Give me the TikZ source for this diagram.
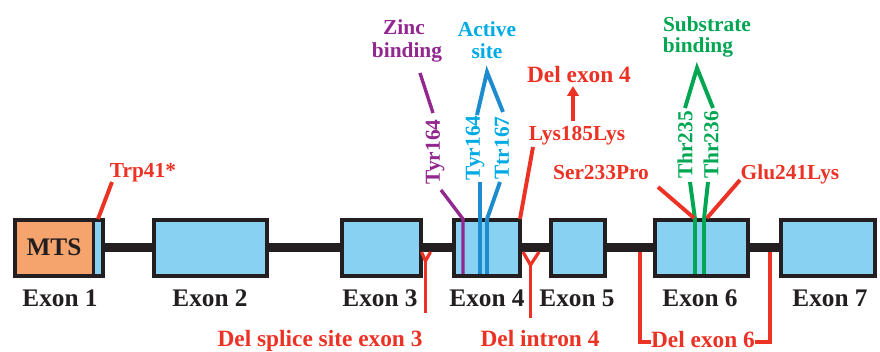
\documentclass[tikz,border=0pt]{standalone}
\usepackage{fontspec}
\setmainfont{Liberation Serif}
\usetikzlibrary{arrows.meta}

\definecolor{ink}{RGB}{35,31,32}
\definecolor{exonfill}{RGB}{137,209,243}
\definecolor{mtsfill}{RGB}{245,164,110}
\definecolor{mutred}{RGB}{236,50,36}
\definecolor{zincpurple}{RGB}{146,39,143}
\definecolor{siteblue}{RGB}{28,140,206}
\definecolor{sitetext}{RGB}{0,170,228}
\definecolor{subgreen}{RGB}{0,166,81}

\tikzset{
  exonbox/.style={draw=ink, line width=2.8pt, fill=exonfill},
  exonlab/.style={font=\fontsize{18}{18}\selectfont\bfseries, text=ink, anchor=base, inner sep=0pt},
  mutlab/.style={font=\fontsize{15.2}{15.2}\selectfont\bfseries, text=mutred, anchor=base, inner sep=0pt},
  dellab/.style={font=\fontsize{16.6}{16.6}\selectfont\bfseries, text=mutred, anchor=base, inner sep=0pt},
  sitelab/.style={font=\fontsize{15.2}{15.2}\selectfont\bfseries, anchor=base, inner sep=0pt},
  reslab/.style={font=\fontsize{15.2}{15.2}\selectfont\bfseries, rotate=90, inner sep=0pt},
  mutline/.style={draw=mutred, line width=2.8pt},
  yline/.style={draw=mutred, line width=2.3pt},
}

\begin{document}
\begin{tikzpicture}[x=0.025cm, y=-0.025cm]
\useasboundingbox (0,0) rectangle (880,352);

% intron backbone
\draw[ink, line width=6.4pt] (103,247.5) -- (781,247.5);

% exon 1 with the MTS segment
\fill[mtsfill] (15,220) rectangle (93.5,276);
\fill[exonfill] (93.5,220) rectangle (103,276);
\draw[ink, line width=2pt] (93.5,220) -- (93.5,276);
\draw[ink, line width=2.8pt] (15,220) rectangle (103,276);
\node[exonlab] (mts) at (54,256) {MTS};

% exons 2-7
\draw[exonbox] (154,220) rectangle (267,276);
\draw[exonbox] (342,220) rectangle (421,276);
\draw[exonbox] (454,220) rectangle (520,276);
\draw[exonbox] (551,220) rectangle (605,276);
\draw[exonbox] (655,220) rectangle (748,276);
\draw[exonbox] (781,220) rectangle (875,276);

% exon labels
\node[exonlab] (lab1) at (60,307) {Exon 1};
\node[exonlab] (lab2) at (210,307) {Exon 2};
\node[exonlab] (lab3) at (380,307) {Exon 3};
\node[exonlab] (lab4) at (487,307) {Exon 4};
\node[exonlab] (lab5) at (577,307) {Exon 5};
\node[exonlab] (lab6) at (700,307) {Exon 6};
\node[exonlab] (lab7) at (830,307) {Exon 7};

% zinc binding residue
\node[sitelab, text=zincpurple] (zincA) at (404,35) {Zinc};
\node[sitelab, text=zincpurple] (zincB) at (407,58) {binding};
\node[reslab, text=zincpurple] (tyrz) at (435,152) {Tyr164};
\coordinate (zt1) at (420,73);
\coordinate (zt2) at (433,113);
\coordinate (zb1) at (441,190);
\coordinate (zb2) at (463,219);
\coordinate (zb3) at (463,274);
\draw[zincpurple, line width=2.4pt] (zt1) -- (zt2);
\draw[zincpurple, line width=2.4pt] (zb1) -- (zb2) -- (zb3);

% active site residues
\node[sitelab, text=sitetext] (actA) at (487,37) {Active};
\node[sitelab, text=sitetext] (actB) at (487,59) {site};
\node[reslab, text=sitetext] (tyra) at (475,148) {Tyr164};
\node[reslab, text=sitetext] (ttra) at (502,148) {Ttr167};
\coordinate (ac1) at (477,115);
\coordinate (ac2) at (487,72);
\coordinate (ac3) at (503,112);
\coordinate (al1) at (480,182);
\coordinate (al2) at (480,274);
\coordinate (ar1) at (500,182);
\coordinate (ar2) at (487,219);
\coordinate (ar3) at (487,274);
\draw[siteblue, line width=2.8pt, line join=miter] (ac1) -- (ac2) -- (ac3);
\draw[siteblue, line width=2.8pt] (al1) -- (al2);
\draw[siteblue, line width=2.8pt] (ar1) -- (ar2) -- (ar3);

% substrate binding residues
\node[sitelab, text=subgreen] (subA) at (707,32) {Substrate};
\node[sitelab, text=subgreen] (subB) at (698,53) {binding};
\node[reslab, text=subgreen] (thr5) at (685,145) {Thr235};
\node[reslab, text=subgreen] (thr6) at (711,145) {Thr236};
\coordinate (sc1) at (685,108);
\coordinate (sc2) at (697,68);
\coordinate (sc3) at (713,108);
\coordinate (sl1) at (690,182);
\coordinate (sl2) at (695,219);
\coordinate (sl3) at (695,274);
\coordinate (sr1) at (708,182);
\coordinate (sr2) at (704,219);
\coordinate (sr3) at (704,274);
\draw[subgreen, line width=2.8pt, line join=miter] (sc1) -- (sc2) -- (sc3);
\draw[subgreen, line width=2.8pt] (sl1) -- (sl2) -- (sl3);
\draw[subgreen, line width=2.8pt] (sr1) -- (sr2) -- (sr3);

% point mutations
\node[mutlab] (trp) at (143,178) {Trp41*};
\coordinate (trpA) at (98,219);
\coordinate (trpB) at (112,182);
\draw[mutline] (trpA) -- (trpB);

\node[mutlab] (lys) at (577,141) {Lys185Lys};
\coordinate (lysA) at (520,219);
\coordinate (lysB) at (533,147);
\draw[mutline] (lysA) -- (lysB);

\node[dellab] (del4) at (579,83) {Del exon 4};
\coordinate (arA) at (573,121);
\coordinate (arB) at (573,86);
\draw[mutred, line width=2.6pt, -{Triangle[length=7pt, width=8pt]}] (arA) -- (arB);

\node[mutlab] (ser) at (601,180) {Ser233Pro};
\coordinate (serA) at (658,187);
\coordinate (serB) at (694,218);
\draw[mutline] (serA) -- (serB);

\node[mutlab] (glu) at (790,180) {Glu241Lys};
\coordinate (gluA) at (740,180);
\coordinate (gluB) at (707,218);
\draw[mutline] (gluA) -- (gluB);

% deletions
\node[dellab] (dss) at (320,347) {Del splice site exon 3};
\coordinate (y3l) at (421.5,252);
\coordinate (y3r) at (430.5,252);
\coordinate (y3j) at (425.5,261);
\coordinate (y3s) at (425.5,313);
\draw[yline] (y3l) -- (y3j) -- (y3r);
\draw[yline] (y3j) -- (y3s);

\node[dellab] (di4) at (540,347) {Del intron 4};
\coordinate (y4l) at (523,252);
\coordinate (y4r) at (539,252);
\coordinate (y4j) at (530.5,265);
\coordinate (y4s) at (530.5,318);
\draw[yline] (y4l) -- (y4j) -- (y4r);
\draw[yline] (y4j) -- (y4s);

\node[dellab] (de6) at (703,348) {Del exon 6};
\coordinate (b6l) at (640,252);
\coordinate (b6r) at (770,252);
\draw[mutline, line join=miter] (b6l) |- (de6.west |- 0,342);
\draw[mutline, line join=miter] (b6r) |- (de6.east |- 0,342);
\end{tikzpicture}
\end{document}
